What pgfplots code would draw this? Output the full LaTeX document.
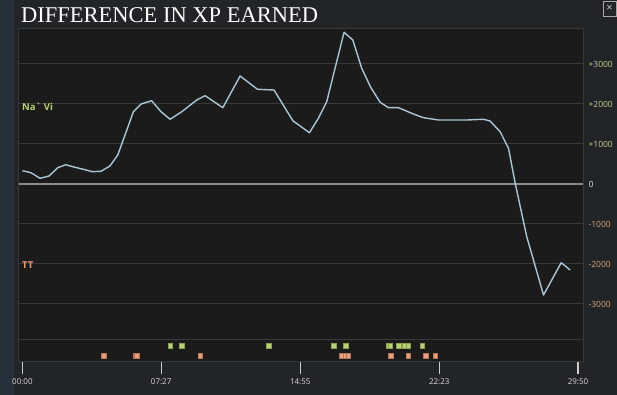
\documentclass[border=0pt]{standalone}
\usepackage{pgfplots}
\pgfplotsset{compat=1.18}
\usepackage{fontspec}
\setmainfont{Liberation Serif}
\setsansfont{Open Sans}
\definecolor{bg}{HTML}{222527}
\definecolor{strip}{HTML}{26303A}
\definecolor{panel}{HTML}{1B1B1B}
\definecolor{gridc}{HTML}{383838}
\definecolor{linec}{HTML}{A9C6D6}
\definecolor{navi}{HTML}{B9D46E}
\definecolor{tt}{HTML}{EE9E78}
\definecolor{pos}{HTML}{C7CF8E}
\definecolor{neg}{HTML}{D69C7E}
\begin{document}
\begin{tikzpicture}[x=1pt,y=1pt]
\useasboundingbox (0,0) rectangle (617,395);
\fill[bg] (0,0) rectangle (617,395);
\fill[strip] (0,0) rectangle (14,395);
\begin{axis}[at={(18.5pt,34pt)}, anchor=south west, scale only axis,
  width=564.5pt, height=333pt,
  xmin=-0.21, xmax=30.1, ymin=-4425, ymax=3900,
  axis background/.style={fill=panel},
  axis line style={gridc, line width=0.8pt},
  xtick={0,7.45,14.9167,22.3833,29.8333},
  xticklabels={00:00,07:27,14:55,22:23,29:50},
  xtick pos=bottom,
  x tick label style={font=\sffamily\fontsize{8}{8}\selectfont, text=white!85!black, yshift=-1pt},
  tick align=outside,
  major tick length=13pt,
  x tick style={white!80!black, line width=1.2pt},
  y tick style={draw=none},
  ytick={-3000,-2000,-1000,1000,2000,3000},
  yticklabels={\textcolor{neg}{-3000},\textcolor{neg}{-2000},\textcolor{neg}{-1000},\textcolor{pos}{+3000},\textcolor{pos}{+2000},\textcolor{pos}{+3000}},
  yticklabels={\textcolor{neg}{-3000},\textcolor{neg}{-2000},\textcolor{neg}{-1000},\textcolor{pos}{+1000},\textcolor{pos}{+2000},\textcolor{pos}{+3000}},
  ytick pos=right, yticklabel pos=right,
  y tick label style={font=\sffamily\fontsize{8.5}{9}\selectfont, xshift=-11pt},
  ymajorgrids, grid style={gridc, line width=1pt},
  extra y ticks={0}, extra y tick labels={\textcolor{white!85!black}{0}},
  extra y tick style={major grid style={white!55!black, line width=1.6pt}},
  clip=false,
]
\addplot[gridc, line width=1pt] coordinates {(-0.21,-3900) (30.1,-3900)};
\addplot[linec, line width=1.4pt, line join=round] coordinates {
(0,332) (0.46,282) (0.95,142) (1.43,200) (1.90,408) (2.33,482) (2.82,418)
(3.27,368) (3.75,308) (4.22,318) (4.70,450) (5.12,725) (5.51,1225) (5.96,1808)
(6.37,2000) (6.94,2082) (7.44,1808) (7.93,1618) (8.56,1808) (9.36,2100) (9.81,2208)
(10.76,1908) (11.69,2700) (12.62,2368) (13.51,2350) (14.52,1582) (15.41,1282)
(15.89,1642) (16.34,2058) (17.27,3792) (17.74,3600) (18.22,2892) (18.71,2408)
(19.21,2042) (19.65,1908) (20.19,1908) (20.49,1850) (20.99,1750) (21.53,1658)
(22.34,1600) (23.86,1600) (24.75,1618) (25.11,1575) (25.65,1308) (26.10,892)
(26.46,18) (27.08,-1318) (27.98,-2775) (28.93,-1968) (29.41,-2150)};
\addplot[only marks, mark=square*, mark size=2.3pt, mark options={fill=navi, draw=navi!75!black, line width=0.4pt}] coordinates {
(7.93,-4050) (8.54,-4050) (13.24,-4050) (16.73,-4050) (17.36,-4050) (19.63,-4050)
(19.74,-4050) (20.22,-4050) (20.49,-4050) (20.71,-4050) (21.46,-4050)};
\addplot[only marks, mark=square*, mark size=2.3pt, mark options={fill=tt, draw=tt!75!black, line width=0.4pt}] coordinates {
(4.38,-4292) (6.05,-4292) (6.15,-4292) (9.54,-4292) (17.11,-4292) (17.33,-4292)
(17.49,-4292) (19.79,-4292) (20.71,-4292) (21.65,-4292) (22.16,-4292)};
\end{axis}
\node[anchor=base west, inner sep=0, text=white, font=\fontsize{22.5}{23}\selectfont] at (21,372) {DIFFERENCE IN XP EARNED};
\node[anchor=west, inner sep=0, text=navi, font=\sffamily\bfseries\fontsize{9.5}{10}\selectfont] at (22,288) {Na\textasciigrave\ Vi};
\node[anchor=west, inner sep=0, text=tt, font=\sffamily\bfseries\fontsize{9.5}{10}\selectfont] at (22,130) {TT};
\draw[white!65!black, line width=0.8pt] (603,379) rectangle (616,394);
\node[text=white!80!black, font=\sffamily\fontsize{11}{11}\selectfont, inner sep=0] at (609.5,386.5) {×};
\end{tikzpicture}
\end{document}
